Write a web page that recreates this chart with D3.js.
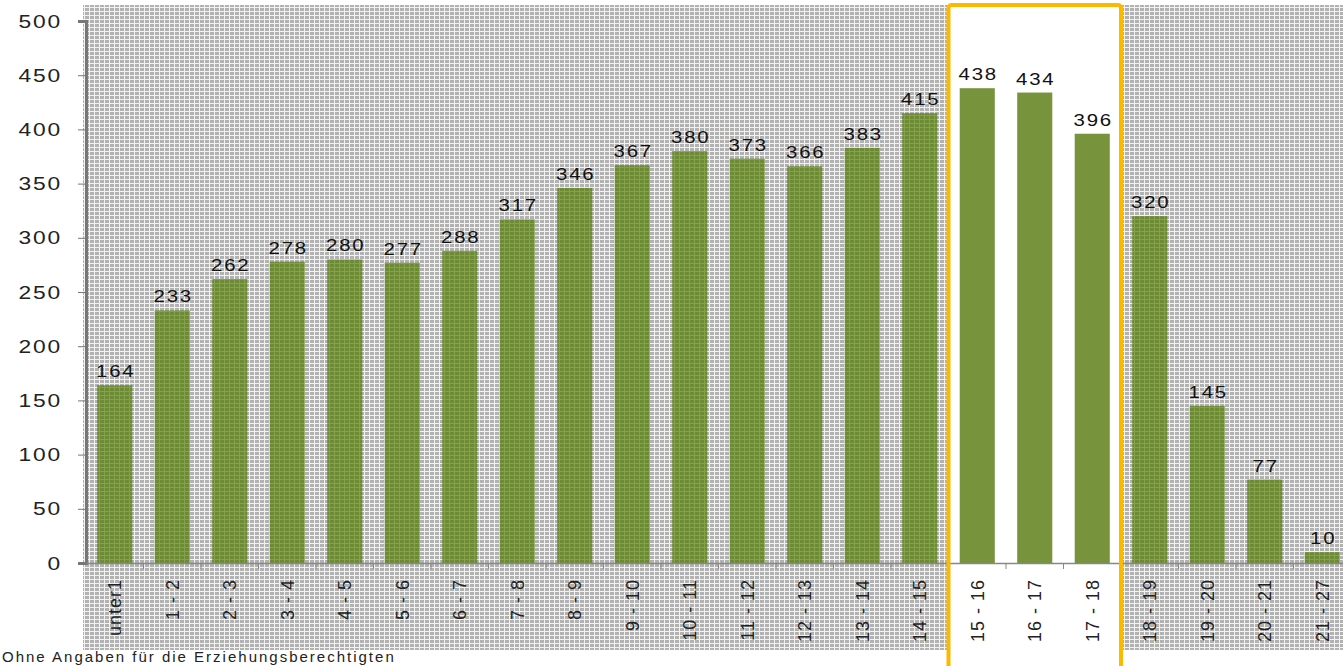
<!DOCTYPE html>
<html>
<head>
<meta charset="utf-8">
<script src="https://cdn.jsdelivr.net/npm/d3@7"></script>
<style>
  body { margin: 0; background: #fff; overflow: hidden; }
  text { font-family: "Liberation Sans", Arial, sans-serif; }
</style>
</head>
<body>
<div id="chart"></div>
<script>
const categories = ['unter1', '1 - 2', '2 - 3', '3 - 4', '4 - 5', '5 - 6', '6 - 7', '7 - 8', '8 - 9', '9 - 10',
  '10 - 11', '11 - 12', '12 - 13', '13 - 14', '14 - 15', '15 - 16', '16 - 17', '17 - 18', '18 - 19',
  '19 - 20', '20 - 21', '21 - 27'];
const values = [164, 233, 262, 278, 280, 277, 288, 317, 346, 367, 380, 373, 366, 383, 415, 438, 434, 396, 320, 145, 77, 10];
const yTicks = [0, 50, 100, 150, 200, 250, 300, 350, 400, 450, 500];
const highlighted = ['15 - 16', '16 - 17', '17 - 18'];
const footnote = 'Ohne Angaben für die Erziehungsberechtigten';

const W = 1343, H = 666,
      stretch = 1.2;   // text in the source looks widened
const svg = d3.select('#chart').append('svg')
  .attr('width', W)
  .attr('height', H);

// mesh texture for the background and the bars
const defs = svg.append('defs');
const addMesh = (id, bg, fg) => {
  const p = defs.append('pattern')
    .attr('id', id)
    .attr('width', 5).attr('height', 4)
    .attr('patternUnits', 'userSpaceOnUse');
  p.append('rect').attr('width', 5).attr('height', 4).attr('fill', bg);
  p.append('rect').attr('width', 4).attr('height', 3).attr('fill', fg);
};
addMesh('mesh', '#f2f2f2', '#b2b2b2');
addMesh('barMesh', '#86a14c', '#6d8a34');

const x = d3.scaleBand()
  .domain(categories)
  .range([86, 86 + categories.length * 57.5])
  .paddingInner(0.39)
  .paddingOuter(0.195);

const band = d3.scaleBand().domain(categories).range(x.range());

const y = d3.scaleLinear()
  .domain([0, 500])
  .range([563, 21]);

// background
svg.append('rect')
  .attr('x', 83).attr('y', 5)
  .attr('width', W - 83).attr('height', 645)
  .attr('fill', 'url(#mesh)');

// highlighted range: white panel
const hx0 = band(highlighted[0]),
      hx1 = band(highlighted[highlighted.length - 1]) + band.bandwidth();
svg.append('rect')
  .attr('x', hx0).attr('y', 5)
  .attr('width', hx1 - hx0).attr('height', H)
  .attr('fill', '#fff');

// bars
svg.selectAll('rect.bar')
  .data(values)
  .enter()
  .append('rect')
    .attr('class', 'bar')
    .attr('x', (d, i) => x(categories[i]))
    .attr('y', d => y(d))
    .attr('width', x.bandwidth())
    .attr('height', d => y(0) - y(d))
    .attr('fill', (d, i) => highlighted.includes(categories[i]) ? '#77933c' : 'url(#barMesh)');

// value labels
svg.selectAll('text.val')
  .data(values)
  .enter()
  .append('text')
    .attr('class', 'val')
    .attr('transform', (d, i) =>
      'translate(' + (x(categories[i]) + x.bandwidth() / 2 + 1) + ',' + (y(d) - 8) + ') scale(' + stretch + ',1)')
    .attr('text-anchor', 'middle')
    .style('font-size', '17px')
    .style('letter-spacing', '1.5px')
    .attr('fill', '#111')
    .text(d => d);

// y axis
const yAxis = d3.axisLeft(y).tickValues(yTicks).tickSize(8).tickPadding(0);
const gy = svg.append('g')
  .attr('transform', 'translate(86,0)')
  .call(yAxis);
gy.select('.domain').attr('stroke', '#777').attr('stroke-width', 3);
gy.selectAll('.tick line').attr('stroke', '#777');
gy.selectAll('.tick text')
  .attr('x', null)
  .attr('transform', 'translate(-24,0) scale(' + stretch + ',1)')
  .style('font-size', '19px')
  .style('letter-spacing', '1.5px')
  .attr('fill', '#222');

// x axis
const xAxis = d3.axisBottom(band).tickSize(0).tickPadding(0);
const gx = svg.append('g')
  .attr('transform', 'translate(0,563)')
  .call(xAxis);
gx.select('.domain').attr('stroke', '#888').attr('stroke-width', 1.5);
gx.selectAll('.tick text')
  .attr('transform', 'rotate(-90)')
  .attr('x', -16)
  .attr('y', 0)
  .attr('dy', '0.35em')
  .attr('text-anchor', 'end')
  .style('font-size', '18px')
  .style('letter-spacing', '1px')
  .attr('fill', '#222');

// small separators between categories
svg.selectAll('line.sep')
  .data(categories.slice(1))
  .enter()
  .append('line')
    .attr('class', 'sep')
    .attr('x1', d => band(d)).attr('x2', d => band(d))
    .attr('y1', 563).attr('y2', 569)
    .attr('stroke', '#888');

// orange frame
svg.append('rect')
  .attr('x', hx0).attr('y', 5)
  .attr('width', hx1 - hx0).attr('height', H)
  .attr('rx', 3)
  .attr('fill', 'none')
  .attr('stroke', '#fbb900')
  .attr('stroke-width', 4);

// footnote at the bottom edge
svg.append('text')
  .attr('x', 2)
  .attr('y', 662)
  .style('font-size', '15px')
  .style('letter-spacing', '2px')
  .attr('fill', '#222')
  .text(footnote);
</script>
</body>
</html>
